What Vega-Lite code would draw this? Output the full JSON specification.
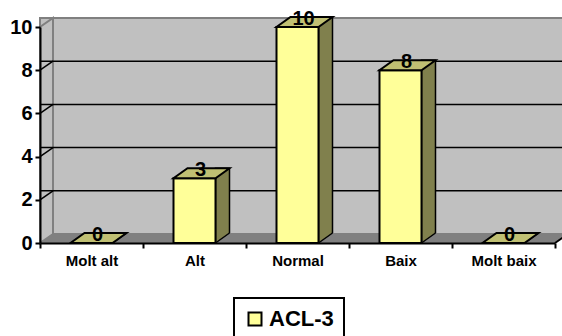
{
  "$schema": "https://vega.github.io/schema/vega-lite/v6.json",
  "width": 515,
  "height": 216,
  "autosize": {"type": "none"},
  "padding": {"left": 40, "top": 27, "right": 7, "bottom": 93},
  "background": "white",
  "config": {"view": {"stroke": null}, "font": "Liberation Sans", "legend": {"strokeWidth": 2}},
  "datasets": {
    "counts": [
      {"cat": "Molt alt", "n": 0},
      {"cat": "Alt", "n": 3},
      {"cat": "Normal", "n": 10},
      {"cat": "Baix", "n": 8},
      {"cat": "Molt baix", "n": 0}
    ],
    "grid": [{"v": 2}, {"v": 4}, {"v": 6}, {"v": 8}],
    "frame": [{"v": 0}]
  },
  "layer": [
    {
      "data": {"name": "frame"},
      "mark": {"type": "rect", "fill": "#C0C0C0", "stroke": "#808080", "strokeWidth": 2, "xOffset": 13, "x2Offset": 13, "yOffset": -9, "y2Offset": -9},
      "encoding": {
        "y": {"datum": 10, "type": "quantitative", "title": null},
        "y2": {"datum": 0}
      }
    },
    {
      "data": {"name": "frame"},
      "mark": {"type": "point", "shape": "M-51.5,0 L-38.5,-9 L-38.5,-225 L-51.5,-216 Z", "size": 4, "filled": true, "color": "#C0C0C0", "stroke": "#808080", "strokeWidth": 2, "opacity": 1},
      "encoding": {
        "x": {"datum": "Molt alt", "type": "nominal", "title": null},
        "y": {"field": "v", "type": "quantitative", "title": null}
      }
    },
    {
      "data": {"name": "frame"},
      "mark": {"type": "point", "shape": "M-51.5,0 L-38.5,-9 L476.5,-9 L463.5,0 Z", "size": 4, "filled": true, "color": "#808080", "opacity": 1},
      "encoding": {
        "x": {"datum": "Molt alt", "type": "nominal", "title": null},
        "y": {"field": "v", "type": "quantitative", "title": null}
      }
    },
    {
      "data": {"name": "frame"},
      "mark": {"type": "point", "shape": "M463.5,0 L476.5,-9", "size": 4, "filled": false, "color": "black", "strokeWidth": 2, "opacity": 1},
      "encoding": {
        "x": {"datum": "Molt alt", "type": "nominal", "title": null},
        "y": {"field": "v", "type": "quantitative", "title": null}
      }
    },
    {
      "data": {"name": "grid"},
      "mark": {"type": "rule", "color": "black", "strokeWidth": 1.5, "xOffset": 13, "x2Offset": 13, "yOffset": -9},
      "encoding": {
        "y": {"field": "v", "type": "quantitative", "title": null}
      }
    },
    {
      "data": {"name": "grid"},
      "mark": {"type": "point", "shape": "M-51.5,0 L-38.5,-9", "size": 4, "filled": false, "color": "black", "strokeWidth": 1.5, "opacity": 1},
      "encoding": {
        "x": {"datum": "Molt alt", "type": "nominal", "title": null},
        "y": {"field": "v", "type": "quantitative", "title": null}
      }
    },
    {
      "data": {"name": "counts"},
      "mark": {"type": "bar", "width": 14, "xOffset": 28, "yOffset": -10, "fill": "#80804D", "stroke": "black", "strokeWidth": 1.5},
      "encoding": {
        "x": {"field": "cat", "type": "nominal", "sort": null, "title": null},
        "y": {"field": "n", "type": "quantitative", "title": null},
        "y2": {"datum": 0}
      }
    },
    {
      "data": {"name": "counts"},
      "mark": {"type": "point", "shape": "M21,0 L35,-10 L37,-10 L37,1 L21,1 Z", "size": 4, "filled": true, "color": "#808080", "opacity": 1},
      "encoding": {
        "x": {"field": "cat", "type": "nominal", "sort": null, "title": null},
        "y": {"datum": 0, "type": "quantitative", "title": null}
      }
    },
    {
      "data": {"name": "counts"},
      "mark": {"type": "point", "shape": "M21,0 L35,-10", "size": 4, "filled": false, "color": "black", "strokeWidth": 1.5, "opacity": 1},
      "encoding": {
        "x": {"field": "cat", "type": "nominal", "sort": null, "title": null},
        "y": {"datum": 0, "type": "quantitative", "title": null}
      }
    },
    {
      "data": {"name": "counts"},
      "mark": {"type": "bar", "width": 42, "stroke": "black", "strokeWidth": 2},
      "encoding": {
        "x": {
          "field": "cat", "type": "nominal", "sort": null, "title": null,
          "scale": {"paddingInner": 0, "paddingOuter": 0},
          "axis": {"labelAngle": 0, "labelAlign": "center", "labelFontSize": 15, "labelFontWeight": "bold", "labelColor": "black", "domainColor": "black", "domainWidth": 2, "tickColor": "black", "tickWidth": 2, "tickSize": 5, "tickBand": "extent", "labelPadding": 12, "zindex": 1}
        },
        "y": {
          "field": "n", "type": "quantitative", "title": null,
          "scale": {"domain": [0, 10], "nice": false},
          "axis": {"values": [0, 2, 4, 6, 8, 10], "grid": false, "labelFontSize": 20, "labelFontWeight": "bold", "labelColor": "black", "domainColor": "black", "domainWidth": 2, "tickColor": "black", "tickWidth": 2, "tickSize": 5, "labelPadding": 3, "zindex": 1}
        },
        "y2": {"datum": 0},
        "color": {
          "datum": "ACL-3",
          "scale": {"range": ["#FFFF99"]},
          "legend": {"orient": "none", "legendX": 194, "legendY": 271, "title": null, "direction": "horizontal", "symbolType": "square", "symbolSize": 169, "symbolStrokeColor": "black", "symbolStrokeWidth": 2, "symbolOpacity": 1, "labelFontSize": 22, "labelFontWeight": "bold", "labelColor": "black", "strokeColor": "black", "padding": 10, "labelOffset": 3}
        }
      }
    },
    {
      "data": {"name": "counts"},
      "mark": {"type": "point", "shape": "M-21,0 L21,0 L35,-10 L-7,-10 Z", "size": 4, "filled": true, "fill": "#C0C073", "stroke": "black", "strokeWidth": 2, "opacity": 1},
      "encoding": {
        "x": {"field": "cat", "type": "nominal", "sort": null, "title": null},
        "y": {"field": "n", "type": "quantitative", "title": null}
      }
    },
    {
      "data": {"name": "counts"},
      "mark": {"type": "text", "dx": 6, "dy": -2.5, "baseline": "alphabetic", "fontSize": 20, "fontWeight": "bold", "color": "black"},
      "encoding": {
        "x": {"field": "cat", "type": "nominal", "sort": null, "title": null},
        "y": {"field": "n", "type": "quantitative", "title": null},
        "text": {"field": "n", "type": "quantitative"}
      }
    }
  ]
}
